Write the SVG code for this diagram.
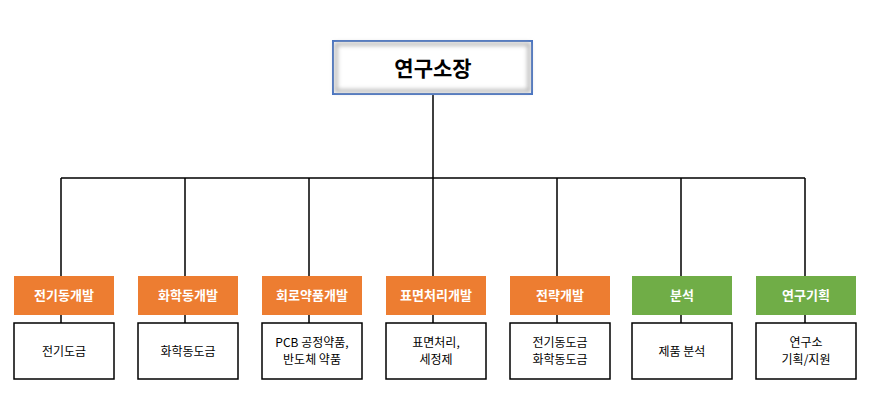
<svg xmlns="http://www.w3.org/2000/svg" width="869" height="419" viewBox="0 0 869 419">
<style>
text{font-family:"Noto Sans CJK KR","Noto Sans",sans-serif;text-anchor:middle;}
.h{fill:#ED7D31;}
.g{fill:#70AD47;}
.ht{fill:#fff;font-size:13px;font-weight:bold;}
.b{fill:#fff;stroke:#000;stroke-width:1.5;}
.bt{fill:#000;font-size:12px;}
.c{stroke:#000;stroke-width:1.5;fill:none;}
</style>
<defs>
<filter id="sh" x="-10%" y="-20%" width="120%" height="140%"><feGaussianBlur stdDeviation="2"/></filter>
</defs>
<g id="connectors">
<path class="c" d="M433 95V178M61 178H805M61 178V276M185 178V276M309 178V276M433 178V276M557 178V276M681 178V276M805 178V276"/>
<path class="c" d="M61 315V323M185 315V323M309 315V323M433 315V323M557 315V323M681 315V323M805 315V323"/>
</g>
<g id="top">
<rect x="333" y="41" width="199" height="53" fill="#fff" stroke="#4472C4" stroke-width="2"/>
<rect x="336" y="44" width="193" height="47" fill="none" stroke="#aaa" stroke-width="3" filter="url(#sh)"/>
<text x="433" y="76" font-size="21" font-weight="bold">연구소장</text>
</g>
<g id="n1"><rect class="h" x="14" y="276" width="100" height="39"/><text class="ht" x="64" y="300">전기동개발</text>
<rect class="b" x="14" y="323" width="100" height="56"/><text class="bt" x="64" y="356">전기도금</text></g>
<g id="n2"><rect class="h" x="138" y="276" width="100" height="39"/><text class="ht" x="188" y="300">화학동개발</text>
<rect class="b" x="138" y="323" width="100" height="56"/><text class="bt" x="188" y="356">화학동도금</text></g>
<g id="n3"><rect class="h" x="262" y="276" width="100" height="39"/><text class="ht" x="312" y="300">회로약품개발</text>
<rect class="b" x="262" y="323" width="100" height="56"/><text class="bt" x="312" y="347">PCB 공정약품,</text><text class="bt" x="312" y="364">반도체 약품</text></g>
<g id="n4"><rect class="h" x="386" y="276" width="100" height="39"/><text class="ht" x="436" y="300">표면처리개발</text>
<rect class="b" x="386" y="323" width="100" height="56"/><text class="bt" x="436" y="347">표면처리,</text><text class="bt" x="436" y="364">세정제</text></g>
<g id="n5"><rect class="h" x="510" y="276" width="100" height="39"/><text class="ht" x="560" y="300">전략개발</text>
<rect class="b" x="510" y="323" width="100" height="56"/><text class="bt" x="560" y="347">전기동도금</text><text class="bt" x="560" y="364">화학동도금</text></g>
<g id="n6"><rect class="g" x="632" y="276" width="100" height="39"/><text class="ht" x="682" y="300">분석</text>
<rect class="b" x="632" y="323" width="100" height="56"/><text class="bt" x="682" y="356">제품 분석</text></g>
<g id="n7"><rect class="g" x="756" y="276" width="100" height="39"/><text class="ht" x="806" y="300">연구기획</text>
<rect class="b" x="756" y="323" width="100" height="56"/><text class="bt" x="806" y="347">연구소</text><text class="bt" x="806" y="364">기획/지원</text></g>
</svg>
